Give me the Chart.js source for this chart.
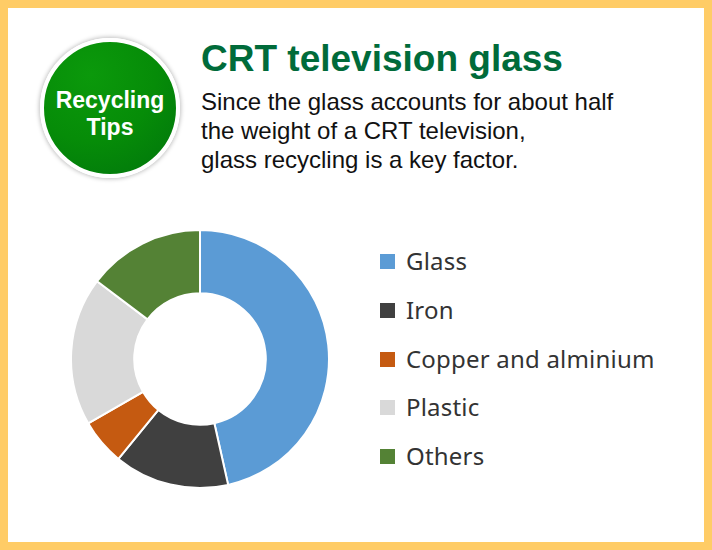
<!DOCTYPE html>
<html>
<head>
<meta charset="utf-8">
<script src="https://cdn.jsdelivr.net/npm/chart.js@4"></script>
<style>
  html, body { margin: 0; padding: 0; }
  body { width: 712px; height: 550px; overflow: hidden; background: #fff; }
  .frame {
    position: absolute; left: 0; top: 0; width: 696px; height: 534px;
    border: 8px solid #FFCC66; background: #fff;
  }
  .badge {
    position: absolute; left: 40px; top: 38px; width: 132px; height: 132px;
    border-radius: 50%; border: 4px solid #fff;
    background: radial-gradient(circle at 35% 25%, #0b990b 0%, #068c08 50%, #00740c 100%);
    box-shadow: 0 0 4px 1px rgba(0,0,0,0.25);
    color: #fff; font-family: "Liberation Sans", Arial, sans-serif; font-weight: bold;
    font-size: 23px; line-height: 27px; text-align: center;
  }
  .badge span { display: block; position: relative; top: 45px; }
  .title {
    position: absolute; left: 201px; top: 38px;
    font-family: "Liberation Sans", Arial, sans-serif; font-weight: bold;
    font-size: 37px; color: #006B3A; white-space: nowrap;
  }
  .lead {
    position: absolute; left: 201px; top: 87px;
    font-family: "Liberation Sans", Arial, sans-serif;
    font-size: 24px; line-height: 29px; color: #111; white-space: nowrap;
  }
  .chart-box { position: absolute; left: 70px; top: 229px; width: 260px; height: 260px; }
  .legend { position: absolute; left: 380px; top: 243px; font-family: "Noto Sans", sans-serif; }
  .legend div { height: 48.8px; display: flex; align-items: flex-start; font-size: 24px; letter-spacing: 0.2px; color: #333; }
  .legend i { display: inline-block; width: 15px; height: 15px; margin: 11px 11px 0 0; }
  .legend div span { line-height: 36px; }
</style>
</head>
<body>
<div class="frame"></div>
<div class="badge"><span>Recycling<br>Tips</span></div>
<div class="title">CRT television glass</div>
<div class="lead">Since the glass accounts for about half<br>the weight of a CRT television,<br>glass recycling is a key factor.</div>
<div class="chart-box"><canvas id="donut"></canvas></div>
<div class="legend" id="legend"></div>
<script>
// share of weight in a CRT television (%)
const materials = ['Glass', 'Iron', 'Copper and alminium', 'Plastic', 'Others'];
const shares = [46.5, 14.4, 5.8, 18.6, 14.7];
const colours = ['#5B9BD5', '#404040', '#C55A11', '#D9D9D9', '#548235'];

new Chart(document.getElementById('donut'), {
  type: 'doughnut',
  data: {
    labels: materials,
    datasets: [{
      data: shares,
      backgroundColor: colours,
      borderColor: '#fff',
      borderWidth: 2,
    }],
  },
  options: {
    responsive: true,
    maintainAspectRatio: false,
    animation: false,
    cutout: '51%',
    plugins: {
      legend: { display: false },
      tooltip: { enabled: false },
    },
  },
});

const legend = document.getElementById('legend');
materials.forEach((name, i) => {
  const row = document.createElement('div');
  row.innerHTML = '<i style="background:' + colours[i] + '"></i><span>' + name + '</span>';
  legend.appendChild(row);
});
</script>
</body>
</html>
